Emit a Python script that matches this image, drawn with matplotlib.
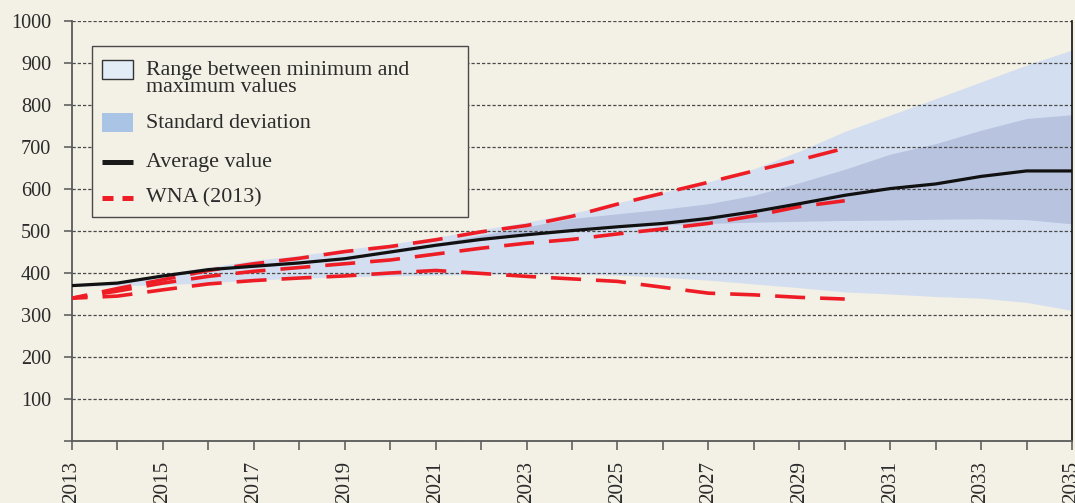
import matplotlib
matplotlib.use("Agg")
import matplotlib.pyplot as plt
from matplotlib.patches import Rectangle
from matplotlib.lines import Line2D

years = list(range(2013, 2036))

average = [370, 376, 393, 408, 416, 424, 434, 450, 466, 480, 491, 501,
           510, 518, 530, 546, 565, 585, 601, 612, 630, 643, 643]

range_max = [372, 380, 398, 414, 430, 442, 456, 469, 485, 503, 521, 542,
             567, 592, 617, 648, 690, 737, 776, 815, 855, 895, 931]
range_min = [368, 370, 372, 377, 383, 388, 391, 393, 395, 397, 398, 398,
             395, 390, 383, 374, 365, 355, 350, 344, 340, 330, 311]

std_upper = [372, 378, 395, 410, 418, 426, 436, 453, 470, 490, 510, 530,
             541, 552, 565, 585, 615, 647, 683, 708, 740, 768, 777]
std_lower = [368, 374, 391, 406, 414, 422, 432, 447, 463, 477, 490, 502,
             510, 515, 518, 521, 523, 525, 526, 528, 529, 527, 517]

wna_years = list(range(2013, 2031))
wna_high = [340, 363, 384, 406, 422, 435, 451, 463, 479, 498, 513, 535,
            564, 590, 616, 643, 669, 697]
wna_mid = [340, 357, 376, 392, 404, 413, 422, 431, 445, 459, 471, 480,
           493, 505, 518, 536, 558, 572]
wna_low = [340, 345, 360, 374, 382, 388, 393, 400, 406, 399, 392, 386,
           380, 366, 352, 348, 342, 338]

y_ticks = list(range(0, 1001, 100))
y_labels = [""] + [str(v) for v in y_ticks[1:]]
x_labels = [str(y) if (y - 2013) % 2 == 0 else "" for y in years]

BG = "#f3f0e5"
LIGHT = "#d3dff0"
DARK = "#b8c4df"
RED = "#ee1d25"
TEXT = "#2b2b2b"

plt.rcParams["font.family"] = ["Liberation Serif", "DejaVu Serif"]

W, H = 1075, 503
PT = 72 / 100  # points per pixel at 100 dpi
fig = plt.figure(figsize=(W / 100, H / 100), dpi=100, facecolor=BG)
ax = fig.add_axes([72 / W, 1 - 441 / H, 1000 / W, 420 / H], facecolor=BG)

ax.fill_between(years, range_min, range_max, color=LIGHT, lw=0, zorder=1)
ax.fill_between(years, std_lower, std_upper, color=DARK, lw=0, zorder=1.1)

ax.set_axisbelow("line")
ax.yaxis.grid(True, color="#4a4a4a", lw=0.9, linestyle=(0, (2.6, 1.6)))
ax.xaxis.grid(False)

lw_red = 2.6
dash = (30 * PT / lw_red, 15 * PT / lw_red)
for series in (wna_high, wna_mid, wna_low):
    ax.plot(wna_years, series, color=RED, lw=lw_red,
            linestyle=(4, dash), zorder=3)

ax.plot(years, average, color="#111111", lw=2.3, zorder=4,
        solid_capstyle="butt")

ax.set_xlim(2013, 2035)
ax.set_ylim(0, 1000)
ax.set_yticks(y_ticks)
ax.set_yticklabels(y_labels)
ax.set_xticks(years)
ax.set_xticklabels(x_labels, rotation=90)

ax.tick_params(axis="y", length=6, width=1.1, color="#555555", pad=9,
               labelsize=14.6, labelcolor=TEXT)
ax.tick_params(axis="x", length=6.5, width=1.1, color="#555555", pad=8,
               labelsize=15.2, labelcolor=TEXT)

for side in ("left", "bottom"):
    ax.spines[side].set_color("#5a5a5a")
    ax.spines[side].set_linewidth(1.3)
ax.spines["top"].set_visible(False)
ax.spines["right"].set_color("#111111")
ax.spines["right"].set_linewidth(1.2)


def fx(x):
    return x / W


def fy(y):
    return 1 - y / H


def box(x0, y0, x1, y1, **kw):
    return Rectangle((fx(x0), fy(y1)), fx(x1) - fx(x0), fy(y0) - fy(y1),
                     transform=fig.transFigure, **kw)


# legend panel
fig.add_artist(box(92, 46, 468, 217, facecolor=BG, edgecolor="#4a4a4a",
                   lw=1.0, zorder=10))
fig.add_artist(box(102, 60, 133, 79, facecolor="#e2ecf7", edgecolor="#333333",
                   lw=1.0, zorder=11))
fig.add_artist(box(102, 113, 133, 132, facecolor="#aac4e6", lw=0, zorder=11))
fig.add_artist(Line2D([fx(102), fx(133)], [fy(162), fy(162)],
                      transform=fig.transFigure, color="#1a1a1a", lw=3.6,
                      solid_capstyle="butt", zorder=11))
lw_leg = 3.6
fig.add_artist(Line2D([fx(102), fx(133)], [fy(198), fy(198)],
                      transform=fig.transFigure, color=RED, lw=lw_leg,
                      linestyle=(0, (11 * PT / lw_leg, 9 * PT / lw_leg)),
                      dash_capstyle="butt", zorder=11))

legend_entries = [
    ("Range between minimum and\nmaximum values", 79),
    ("Standard deviation", 123),
    ("Average value", 162),
    ("WNA (2013)", 198),
]
for label, yc in legend_entries:
    fig.text(fx(146), fy(yc), label, ha="left", va="center", fontsize=15.8,
             color=TEXT, linespacing=0.9, zorder=12)

fig.savefig("out.png", dpi=100, facecolor=BG)
